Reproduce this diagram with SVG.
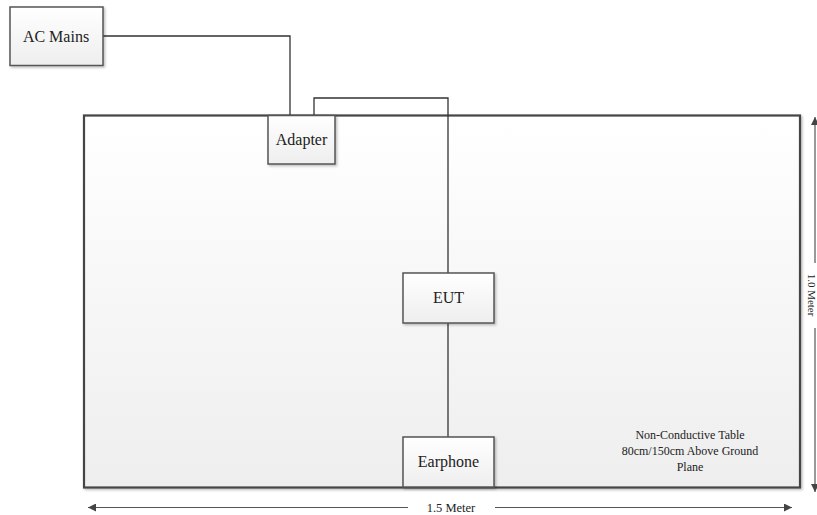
<svg xmlns="http://www.w3.org/2000/svg" width="817" height="515" viewBox="0 0 817 515">
<defs>
<linearGradient id="g" x1="0" y1="0" x2="0" y2="1"><stop offset="0" stop-color="#ffffff"/><stop offset="1" stop-color="#eeeeee"/></linearGradient>
<marker id="ah" viewBox="0 0 10 10" refX="10" refY="5" markerWidth="12" markerHeight="8" markerUnits="userSpaceOnUse" orient="auto-start-reverse"><path d="M0,0 L10,5 L0,10 z" fill="#444"/></marker>
<filter id="sh" x="-5%" y="-5%" width="115%" height="115%"><feDropShadow dx="1.5" dy="1.5" stdDeviation="1" flood-color="#000" flood-opacity="0.25"/></filter>
</defs>
<style>
.box{fill:url(#g);stroke:#555;stroke-width:1.5;filter:url(#sh)}
.wire{fill:none;stroke:#333;stroke-width:1.3}
.dim{fill:none;stroke:#555;stroke-width:1.2}
text{font-family:"Liberation Serif","DejaVu Serif",serif;fill:#222;text-anchor:middle}
</style>
<g id="table"><rect x="84" y="115.5" width="716" height="372" fill="url(#g)" stroke="#444" stroke-width="2.2" filter="url(#sh)"/>
<text x="690" y="439" font-size="12">Non-Conductive Table</text>
<text x="690" y="455" font-size="12">80cm/150cm Above Ground</text>
<text x="690" y="471" font-size="12">Plane</text></g>
<g id="connectors">
<polyline class="wire" points="103,36 290,36 290,115.5"/>
<polyline class="wire" points="314,115.5 314,98 448,98 448,273"/>
<line class="wire" x1="448" y1="323" x2="448" y2="437"/>
</g>
<g id="ac-mains"><rect class="box" x="10" y="7" width="93" height="58.5"/><text x="56" y="42" font-size="16">AC Mains</text></g>
<g id="adapter"><rect class="box" x="268" y="115.5" width="67" height="48.5"/><text x="301.5" y="145" font-size="16">Adapter</text></g>
<g id="eut"><rect class="box" x="403" y="273" width="91" height="50"/><text x="448.5" y="303" font-size="16">EUT</text></g>
<g id="earphone"><rect class="box" x="403" y="437" width="91" height="50"/><text x="448.5" y="467" font-size="16">Earphone</text></g>
<g id="dimensions">
<line class="dim" x1="408" y1="507.5" x2="88" y2="507.5" marker-end="url(#ah)"/>
<line class="dim" x1="495" y1="507.5" x2="792" y2="507.5" marker-end="url(#ah)"/>
<text x="451" y="512" font-size="12.5">1.5 Meter</text>
<line class="dim" x1="815" y1="263" x2="815" y2="117" marker-end="url(#ah)"/>
<line class="dim" x1="815" y1="328" x2="815" y2="492" marker-end="url(#ah)"/>
<text x="0" y="0" font-size="11" transform="translate(808,295) rotate(90)">1.0 Meter</text>
</g>
</svg>
